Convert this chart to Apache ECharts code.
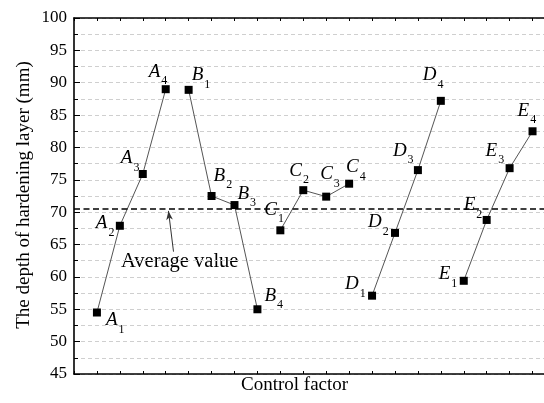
<!DOCTYPE html>
<html>
<head>
<meta charset="utf-8">
<script src="https://cdn.jsdelivr.net/npm/echarts@6/dist/echarts.min.js"></script>
<style>
  html, body { margin: 0; padding: 0; background: #fff; }
  #chart { width: 544px; height: 403px; }
</style>
</head>
<body>
<div id="chart"></div>
<script>
// Control factors and their four levels
const factors = ['A', 'B', 'C', 'D', 'E'];
const levels = ['1', '2', '3', '4'];

// Depth of the hardening layer (mm) for each factor level
const depthA = [54.5, 67.9, 75.9, 89.0];
const depthB = [88.9, 72.5, 71.1, 55.0];
const depthC = [67.2, 73.4, 72.4, 74.4];
const depthD = [57.1, 66.8, 76.5, 87.2];
const depthE = [59.4, 68.8, 76.8, 82.5];
const depthByFactor = [depthA, depthB, depthC, depthD, depthE];

// Mean depth over all runs
const averageDepth = 70.5;

// Y-axis tick labels
const yTickValues = [45, 50, 55, 60, 65, 70, 75, 80, 85, 90, 95, 100];

// Label placement per point: [letter left, letter middle] relative to the marker (px)
const labelPlacement = [
  [[9, 8], [-24, -2], [-22, -15], [-17, -17]],
  [[3, -14], [2, -20], [3, -11], [7, -13]],
  [[-16, -20], [-14, -19], [-6, -22], [-3, -16]],
  [[-27, -11], [-27, -10], [-25, -19], [-18, -25]],
  [[-25, -6], [-23, -14], [-24, -17], [-15, -20]]
];

// Arrow from the caption to the average line, in axis units
const arrowTail = [4.34, 63.9];
const arrowTip = [4.12, 70.2];

const serif = '"Liberation Serif", "Times New Roman", serif';

const series = factors.map((f, fi) => ({
  type: 'line',
  name: f,
  symbol: 'rect',
  symbolSize: 8,
  itemStyle: { color: '#000' },
  lineStyle: { color: '#555', width: 1 },
  z: 3,
  label: {
    show: true,
    position: 'inside',
    align: 'left',
    verticalAlign: 'top',
    formatter: (p) => '{l|' + f + '}{s|' + levels[p.dataIndex] + '}',
    rich: {
      l: { fontFamily: serif, fontStyle: 'italic', fontSize: 19, lineHeight: 20, color: '#000', verticalAlign: 'top' },
      s: { fontFamily: serif, fontSize: 12, lineHeight: 12, padding: [13, 0, 0, 1], color: '#000', verticalAlign: 'top' }
    }
  },
  emphasis: { disabled: true },
  data: depthByFactor[fi].map((v, li) => ({
    value: [fi * levels.length + li + 1, v],
    label: { offset: [labelPlacement[fi][li][0], labelPlacement[fi][li][1] - 10] }
  }))
}));

// Annotation layer: the average line and the pointer arrow
series.push({
  type: 'line',
  data: [],
  silent: true,
  markLine: {
    silent: true,
    animation: false,
    symbol: ['none', 'none'],
    label: { show: false },
    data: [
      {
        yAxis: averageDepth,
        lineStyle: { color: '#000', width: 1.6, type: [6, 3.5] }
      },
      [
        { coord: arrowTail, symbol: 'none', lineStyle: { color: '#333', width: 1, type: 'solid' } },
        { coord: arrowTip, symbol: 'arrow', symbolSize: [5, 9] }
      ]
    ]
  }
});

const xAxisBase = {
  type: 'value',
  min: 0,
  max: 20.5,
  interval: 1,
  axisLine: { lineStyle: { color: '#000', width: 1.6 } },
  axisTick: { show: true, inside: true, length: 3, lineStyle: { color: '#000', width: 1 } },
  axisLabel: { show: false },
  splitLine: { show: false }
};

const option = {
  animation: false,
  backgroundColor: '#fff',
  grid: { left: 74, right: 0, top: 18, bottom: 29 },
  xAxis: [
    Object.assign({ position: 'bottom' }, xAxisBase),
    Object.assign({ position: 'top' }, xAxisBase)
  ],
  yAxis: {
    type: 'value',
    min: yTickValues[0],
    max: yTickValues[yTickValues.length - 1],
    interval: yTickValues[1] - yTickValues[0],
    axisLine: { show: true, lineStyle: { color: '#000', width: 1.6 } },
    axisTick: { show: true, inside: true, length: 6, lineStyle: { color: '#000', width: 1 } },
    minorTick: { show: true, splitNumber: 2, length: 4, lineStyle: { color: '#000', width: 1 } },
    axisLabel: { fontFamily: serif, fontSize: 17, color: '#000', margin: 7 },
    splitLine: { show: true, lineStyle: { color: '#cfcfcf', width: 1, type: [4, 3] } },
    minorSplitLine: { show: true, lineStyle: { color: '#cfcfcf', width: 1, type: [4, 3] } }
  },
  graphic: [
    {
      type: 'text',
      x: 24,
      y: 195,
      rotation: Math.PI / 2,
      style: {
        text: 'The depth of hardening layer (mm)',
        font: '19px ' + serif,
        fill: '#000',
        align: 'center',
        verticalAlign: 'middle'
      }
    },
    {
      type: 'text',
      left: 241,
      top: 376,
      style: { text: 'Control factor', font: '19px ' + serif, fill: '#000' }
    },
    {
      type: 'text',
      left: 121,
      top: 251,
      style: { text: 'Average value', font: '20.5px ' + serif, fill: '#000' }
    }
  ],
  series: series
};

const chart = echarts.init(document.getElementById('chart'), null, { renderer: 'canvas' });
chart.setOption(option);
</script>
</body>
</html>
